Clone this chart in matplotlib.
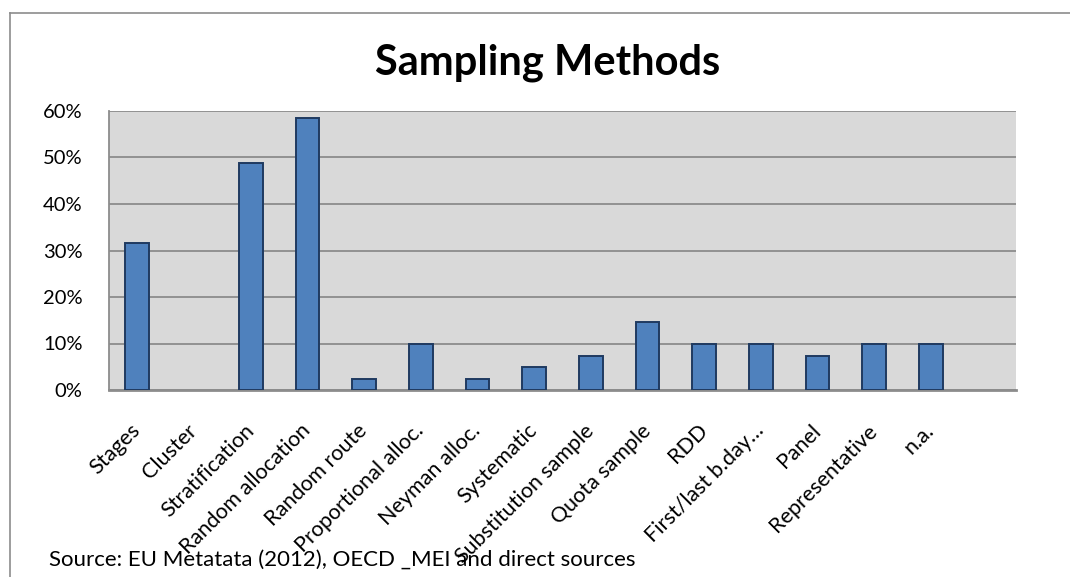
import matplotlib
matplotlib.use("Agg")
import matplotlib.pyplot as plt
from matplotlib.lines import Line2D
from matplotlib.ticker import FuncFormatter

plt.rcParams['font.family'] = ['Lato', 'DejaVu Sans']

# Share of sources using each sampling method (%)
categories = ["Stages", "Cluster", "Stratification", "Random allocation",
              "Random route", "Proportional alloc.", "Neyman alloc.",
              "Systematic", "Substitution sample", "Quota sample", "RDD",
              "First/last b.day\u2026", "Panel", "Representative", "n.a.", ""]
shares = [31.7, 0.0, 48.8, 58.5, 2.4, 9.8, 2.4, 4.9, 7.3, 14.6,
          9.8, 9.8, 7.3, 9.8, 9.8]
y_ticks = [0, 10, 20, 30, 40, 50, 60]

W, H = 1070, 577
fig = plt.figure(figsize=(W / 100, H / 100), dpi=100)
fig.patch.set_facecolor("white")

left, right, top, bottom = 109, 1016, 111, 390
ax = fig.add_axes([left / W, 1 - bottom / H, (right - left) / W, (bottom - top) / H])
ax.set_facecolor("#D9D9D9")

x = list(range(len(shares)))
bars = ax.bar(x, shares, width=0.42, color="#4F81BD", edgecolor="#1F3A60",
              linewidth=1.4, zorder=3)
# an empty category shows no outline
for b, v in zip(bars, shares):
    if v == 0:
        b.set_linewidth(0)

ax.set_xlim(-0.5, len(categories) - 0.5)
ax.set_ylim(0, 60)
ax.set_yticks(y_ticks)
ax.yaxis.set_major_formatter(FuncFormatter(lambda v, p: f"{v:.0f}%"))
ax.grid(axis="y", color="#8C8C8C", linewidth=1.3, zorder=1)
ax.set_axisbelow(True)

ax.set_xticks(range(len(categories)))
ax.set_xticklabels(categories, rotation=45, ha="right", va="center",
                   rotation_mode="anchor", fontsize=15.5)
ax.tick_params(axis="x", length=0, pad=27)
ax.tick_params(axis="y", length=0, pad=19, labelsize=14.5)

for side in ("top", "right"):
    ax.spines[side].set_visible(False)
for side in ("left", "bottom"):
    ax.spines[side].set_color("#8C8C8C")
ax.spines["left"].set_linewidth(1.3)
ax.spines["bottom"].set_linewidth(2.0)

# Chart frame
fig.add_artist(Line2D([10 / W, 10 / W], [0, 1 - 13 / H], transform=fig.transFigure,
                      color="#8C8C8C", linewidth=1.2))
fig.add_artist(Line2D([10 / W, 1], [1 - 13 / H, 1 - 13 / H], transform=fig.transFigure,
                      color="#8C8C8C", linewidth=1.2))

fig.text(548 / W, 1 - 63 / H, "Sampling Methods", ha="center", va="center",
         fontsize=30, fontweight="bold")
fig.text(49 / W, 1 - 560 / H, "Source: EU Metatata (2012), OECD _MEI and direct sources",
         ha="left", va="center", fontsize=16, zorder=10)

fig.savefig("out.png", dpi=100)
